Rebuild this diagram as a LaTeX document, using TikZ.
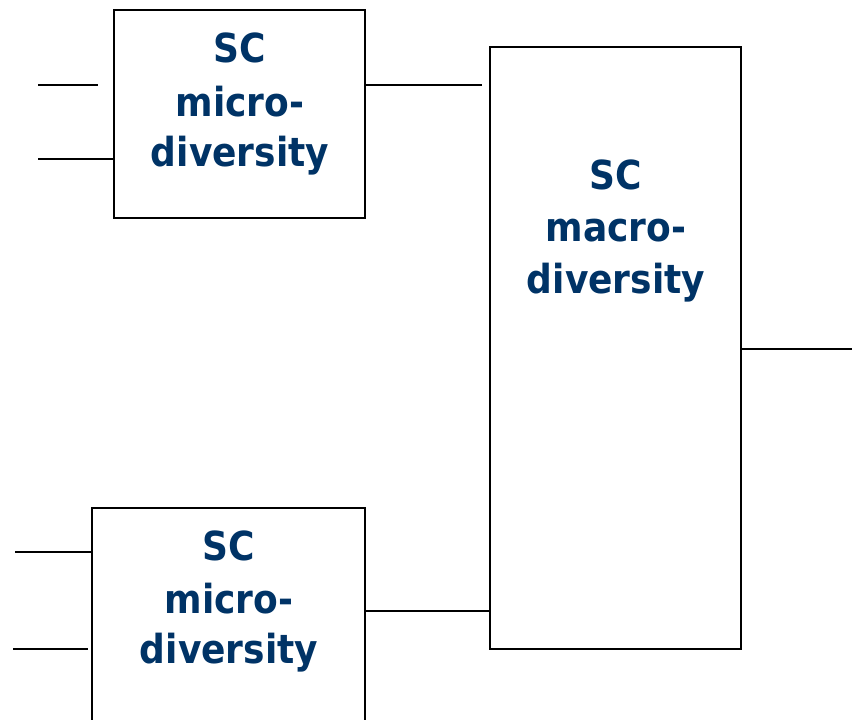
\documentclass[tikz,border=0pt]{standalone}
\usepackage{fontspec}
\newfontfamily\boxfont{DejaVu Sans Condensed}[BoldFont={DejaVu Sans Condensed Bold}]
\definecolor{navy}{RGB}{0,51,102}
\begin{document}
\begin{tikzpicture}[x=0.75pt,y=-0.75pt,
  wire/.style={line width=1.4pt},
  blk/.style={draw,line width=1.4pt,inner sep=0pt,outer sep=0pt},
  lbl/.style={anchor=base,inner sep=0pt,text=navy,font=\boxfont\bfseries\fontsize{30}{39}\selectfont}]
\useasboundingbox (0,0) rectangle (852,720);
\clip (0,0) rectangle (852,720);
% boxes
\node[blk,minimum width=188.25pt,minimum height=156pt] (A) at (239.5,114) {};
\node[blk,minimum width=204.75pt,minimum height=204pt] (B) at (228.5,644) {};
\node[blk,minimum width=188.25pt,minimum height=451.5pt] (C) at (615.5,348) {};
% labels
\node[lbl] (a1) at (240,63) {SC};
\node[lbl] (a2) at (240,117) {micro-};
\node[lbl] (a3) at (240,167) {diversity};
\node[lbl] (c1) at (616,190) {SC};
\node[lbl] (c2) at (616,242) {macro-};
\node[lbl] (c3) at (616,293) {diversity};
\node[lbl] (b1) at (229,560) {SC};
\node[lbl] (b2) at (229,613) {micro-};
\node[lbl] (b3) at (229,663) {diversity};
% free ends
\coordinate (i1s) at (38,85);
\coordinate (i1e) at (98,85);
\coordinate (i2s) at (38,159);
\coordinate (aout) at (482,85);
\coordinate (j1s) at (15,552);
\coordinate (j2s) at (13,649);
\coordinate (j2e) at (88,649);
\coordinate (bo) at (365,611);
\coordinate (out) at (852,349);
% connectors
\draw[wire] (i1s) -- (i1e);
\draw[wire] (i2s) -- (A.west |- i2s);
\draw[wire] (A.east |- aout) -- (aout);
\draw[wire] (j1s) -- (B.west |- j1s);
\draw[wire] (j2s) -- (j2e);
\draw[wire] (B.east |- bo) -- (C.west |- bo);
\draw[wire] (C.east |- out) -- (out);
\end{tikzpicture}
\end{document}
